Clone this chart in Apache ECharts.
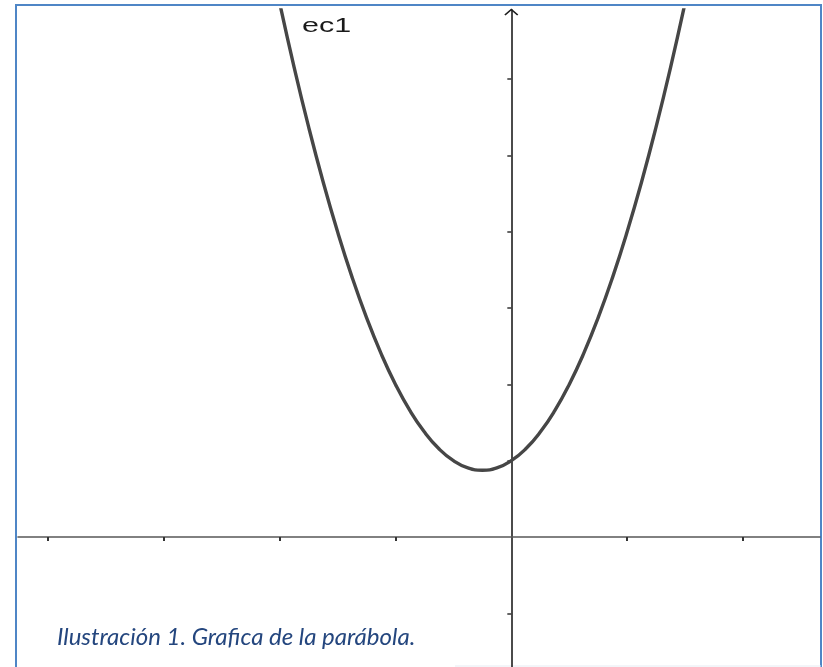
<!DOCTYPE html>
<html>
<head>
<meta charset="utf-8">
<script src="https://cdn.jsdelivr.net/npm/echarts@6/dist/echarts.min.js"></script>
<style>
  html, body { margin: 0; padding: 0; background: #fff; }
  #main { width: 823px; height: 667px; }
</style>
</head>
<body>
<div id="main"></div>
<script>
var myChart = echarts.init(document.getElementById('main'));

var xs = [-2, -1.875, -1.75, -1.625, -1.5, -1.375, -1.25, -1.125, -1, -0.875, -0.75, -0.625, -0.5, -0.375,
          -0.25, -0.125, 0, 0.125, 0.25, 0.375, 0.5, 0.625, 0.75, 0.875, 1, 1.125, 1.25, 1.375, 1.5];
var ys = [7, 6.156, 5.375, 4.656, 4, 3.406, 2.875, 2.406, 2, 1.656, 1.375, 1.156, 1, 0.906,
          0.875, 0.906, 1, 1.156, 1.375, 1.656, 2, 2.406, 2.875, 3.406, 4, 4.656, 5.375, 6.156, 7];

var xTicks = [-4, -3, -2, -1, 1, 2];
var yTicks = [-1, 1, 2, 3, 4, 5, 6];

var curveName = 'ec1';
var caption = 'Ilustración 1. Grafica de la parábola.';

var points = xs.map(function (x, i) { return [x, ys[i]]; });

option = {
  animation: false,
  grid: { left: 18, right: 3, top: 10, bottom: 0 },
  xAxis: {
    type: 'value',
    min: -4.259,
    max: 2.665,
    splitLine: { show: false },
    axisLabel: { show: false },
    axisLine: { onZero: true, lineStyle: { color: '#585858', width: 1.6 } },
    axisTick: { show: true, length: 4, customValues: xTicks, lineStyle: { color: '#333', width: 2 } }
  },
  yAxis: {
    type: 'value',
    min: -1.704,
    max: 6.907,
    splitLine: { show: false },
    axisLabel: { show: false },
    axisLine: {
      onZero: true,
      symbol: ['none', 'path://M0,6 L7,0 L14,6 L12.8,7 L7,2 L1.2,7 Z'],
      symbolSize: [15, 7],
      symbolOffset: [0, -2],
      lineStyle: { color: '#1e1e1e', width: 1.6 }
    },
    axisTick: { show: true, length: 4, customValues: yTicks, lineStyle: { color: '#333', width: 1.5 } }
  },
  graphic: [
    {
      type: 'rect',
      shape: { x: 16, y: 5, width: 805, height: 700 },
      style: { fill: 'none', stroke: '#4f86c6', lineWidth: 2 },
      silent: true
    },
    {
      type: 'line',
      shape: { x1: 455, y1: 666, x2: 821, y2: 666 },
      style: { stroke: '#e6ebf2', lineWidth: 1 },
      silent: true
    },
    {
      type: 'text',
      x: 302, y: 16,
      scaleX: 1.45,
      style: {
        text: curveName,
        fill: '#1a1a1a',
        fontFamily: 'Liberation Sans',
        fontSize: 21,
        verticalAlign: 'top'
      },
      silent: true
    },
    {
      type: 'text',
      x: 57, y: 637,
      style: {
        text: caption,
        fill: '#24467e',
        fontFamily: 'Lato',
        fontStyle: 'italic',
        fontSize: 24,
        verticalAlign: 'middle'
      },
      silent: true
    }
  ],
  series: [{
    name: curveName,
    type: 'line',
    data: points,
    smooth: true,
    showSymbol: false,
    lineStyle: { color: '#464646', width: 3.4 }
  }]
};

myChart.setOption(option);
</script>
</body>
</html>
